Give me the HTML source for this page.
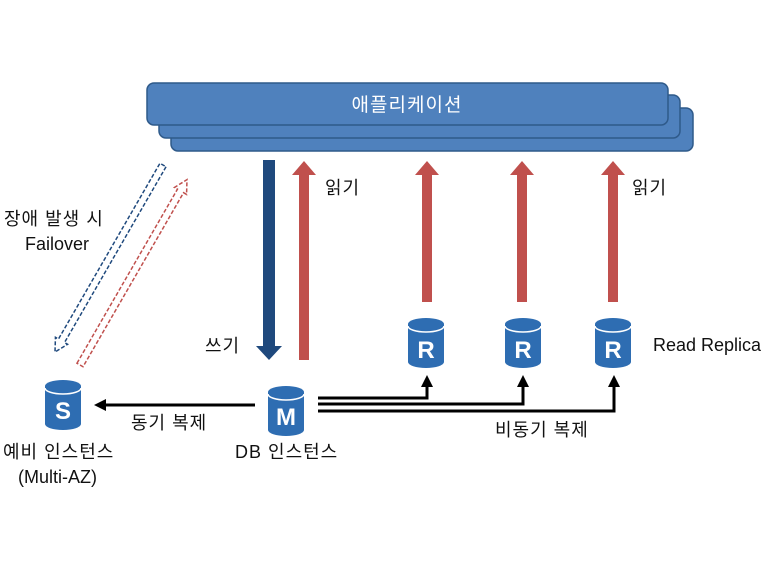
<!DOCTYPE html>
<html><head><meta charset="utf-8"><style>
body{margin:0;background:#fff}
svg text{font-family:"Liberation Sans","Noto Sans CJK KR",sans-serif;font-size:18px;fill:#111}
.k{letter-spacing:1px}
</style></head><body>
<svg width="770" height="578" viewBox="0 0 770 578" xmlns="http://www.w3.org/2000/svg">
<defs>
<g id="cyl">
<path d="M0,6 v38 a18,6 0 0 0 36,0 v-38 z" fill="#2e6db2"/>
<ellipse cx="18" cy="6" rx="18" ry="6" fill="#2e6db2"/>
<path d="M0,8 a18,6 0 0 0 36,0" fill="none" stroke="#fff" stroke-width="1.5"/>
</g>
</defs>
<g stroke="#2f5a8a" stroke-width="1.5" fill="#4f81bd">
<rect x="171" y="108" width="522" height="43" rx="7"/>
<rect x="159" y="95" width="521" height="43" rx="7"/>
<rect x="147" y="83" width="521" height="42" rx="7"/>
</g>
<text x="407" y="111" text-anchor="middle" class="k" style="fill:#fff;font-size:19px">애플리케이션</text>

<polygon points="263,160 275,160 275,346 282,346 269,360 256,346 263,346" fill="#1f497d"/>
<g fill="#c0504d">
<polygon points="299,360 309,360 309,175 316,175 304,161 292,175 299,175"/>
<polygon points="422,302 432,302 432,175 439,175 427,161 415,175 422,175"/>
<polygon points="517,302 527,302 527,175 534,175 522,161 510,175 517,175"/>
<polygon points="608,302 618,302 618,175 625,175 613,161 601,175 608,175"/>
</g>

<g fill="none" stroke-width="1.5" stroke-dasharray="4,2">
<polygon transform="translate(163,165) rotate(120)" points="0,-3.5 203,-3.5 203,-7 216,0 203,7 203,3.5 0,3.5" stroke="#1f497d"/>
<polygon transform="translate(80,365) rotate(-60)" points="0,-3.5 201,-3.5 201,-7 214,0 201,7 201,3.5 0,3.5" stroke="#c0504d"/>
</g>

<use href="#cyl" x="45" y="380"/>
<use href="#cyl" x="268" y="386"/>
<use href="#cyl" x="408" y="318"/>
<use href="#cyl" x="505" y="318"/>
<use href="#cyl" x="595" y="318"/>
<g text-anchor="middle">
<text x="63" y="419" style="fill:#fff;font-weight:bold;font-size:24px">S</text>
<text x="286" y="425" style="fill:#fff;font-weight:bold;font-size:24px">M</text>
<text x="426" y="358" style="fill:#fff;font-weight:bold;font-size:24px">R</text>
<text x="523" y="358" style="fill:#fff;font-weight:bold;font-size:24px">R</text>
<text x="613" y="358" style="fill:#fff;font-weight:bold;font-size:24px">R</text>
</g>

<g stroke="#000" stroke-width="3" fill="none">
<line x1="255" y1="405" x2="102" y2="405"/>
<polyline points="318,398 427,398 427,385"/>
<polyline points="318,404 523,404 523,385"/>
<polyline points="318,411 614,411 614,385"/>
</g>
<g fill="#000">
<polygon points="94,405 106,399 106,411"/>
<polygon points="427,375 421,387 433,387"/>
<polygon points="523,375 517,387 529,387"/>
<polygon points="614,375 608,387 620,387"/>
</g>

<text x="325" y="194" class="k">읽기</text>
<text x="632" y="194" class="k">읽기</text>
<text x="205" y="352" class="k">쓰기</text>
<text x="4" y="225" class="k">장애 발생 시</text>
<text x="25" y="250">Failover</text>
<text x="653" y="351">Read Replica</text>
<text x="131" y="429" class="k">동기 복제</text>
<text x="495" y="436" class="k">비동기 복제</text>
<text x="235" y="458" class="k">DB 인스턴스</text>
<text x="3" y="458" class="k">예비 인스턴스</text>
<text x="18" y="483">(Multi-AZ)</text>
</svg>
</body></html>
